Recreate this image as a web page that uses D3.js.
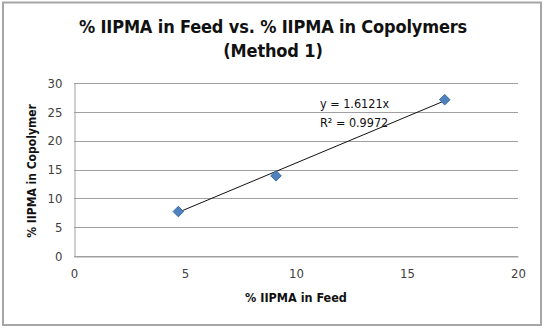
<!DOCTYPE html>
<html>
<head>
<meta charset="utf-8">
<script src="https://cdn.jsdelivr.net/npm/d3@7"></script>
<style>
  body { margin: 0; background: #fff; }
  svg { display: block; font-family: "DejaVu Sans Condensed", "DejaVu Sans", sans-serif; }
</style>
</head>
<body>
<div class="chart"></div>
<script>
// data
var feed = [4.7, 9.1, 16.7];
var copolymer = [7.7, 13.9, 27.1];
var xTicks = [0, 5, 10, 15, 20];
var yTicks = [0, 5, 10, 15, 20, 25, 30];
var slope = 1.6121;
var equationLines = ["y = 1.6121x", "R² = 0.9972"];

var width = 546;
var height = 332;
var margin = { top: 83, right: 28, bottom: 76, left: 74 };

var svg = d3.select(".chart")
  .append("svg")
  .attr("width", width)
  .attr("height", height);

// bingkai luar
svg.append("rect")
  .attr("x", 3).attr("y", 2.5)
  .attr("width", 538).attr("height", 322.5)
  .attr("fill", "white")
  .attr("stroke", "#a6a6a6")
  .attr("stroke-width", 2);

var x = d3.scaleLinear().domain([0, 20]).range([margin.left, width - margin.right]);
var y = d3.scaleLinear().domain([0, 30]).range([height - margin.bottom, margin.top]);

// grid horizontal
svg.append("g")
  .selectAll("line")
  .data(yTicks)
  .enter().append("line")
  .attr("x1", x(0))
  .attr("x2", x(20))
  .attr("y1", function(d) { return Math.round(y(d)) + 0.5; })
  .attr("y2", function(d) { return Math.round(y(d)) + 0.5; })
  .attr("stroke", "#a0a0a0")
  .attr("stroke-width", 1);

// sumbu y
var yAxis = svg.append("g")
  .attr("transform", "translate(" + (x(0) + 0.5) + ",0)")
  .call(d3.axisLeft(y).tickValues(yTicks).tickSize(0).tickPadding(12));
yAxis.select(".domain").attr("stroke", "#a0a0a0");
yAxis.selectAll("text").style("font-size", "13px").style("fill", "#404040")
  .style("font-family", "DejaVu Sans Condensed, DejaVu Sans, sans-serif");

// sumbu x
var xAxis = svg.append("g")
  .attr("transform", "translate(0," + (Math.round(y(0)) + 0.5) + ")")
  .call(d3.axisBottom(x).tickValues(xTicks).tickSize(0).tickPadding(12));
xAxis.select(".domain").attr("stroke", "#a0a0a0");
xAxis.selectAll("text").style("font-size", "13px").style("fill", "#404040")
  .style("font-family", "DejaVu Sans Condensed, DejaVu Sans, sans-serif");

// judul
var title = svg.append("text")
  .attr("x", 273)
  .attr("text-anchor", "middle")
  .style("font-size", "18px")
  .style("font-weight", "bold")
  .style("letter-spacing", "-0.15px")
  .style("fill", "#111");
title.append("tspan").attr("x", 273).attr("y", 33).text("% IIPMA in Feed vs. % IIPMA in Copolymers");
title.append("tspan").attr("x", 273).attr("y", 57).text("(Method 1)");

// judul sumbu
svg.append("text")
  .attr("x", 296)
  .attr("y", 302)
  .attr("text-anchor", "middle")
  .style("font-size", "12.5px")
  .style("font-weight", "bold")
  .style("fill", "#111")
  .text("% IIPMA in Feed");

svg.append("text")
  .attr("transform", "translate(36,171) rotate(-90)")
  .attr("text-anchor", "middle")
  .style("font-size", "12px")
  .style("font-weight", "bold")
  .style("fill", "#111")
  .text("% IIPMA in Copolymer");

// garis tren
var xMin = d3.min(feed), xMax = d3.max(feed);
svg.append("line")
  .attr("x1", x(xMin)).attr("y1", y(slope * xMin))
  .attr("x2", x(xMax)).attr("y2", y(slope * xMax))
  .attr("stroke", "#111")
  .attr("stroke-width", 1);

// titik data (diamond)
var points = feed.map(function(d, i) { return { fx: d, cy: copolymer[i] }; });
svg.selectAll(".pt")
  .data(points)
  .enter().append("path")
  .attr("class", "pt")
  .attr("d", d3.symbol().type(d3.symbolDiamond2).size(70))
  .attr("transform", function(d) { return "translate(" + x(d.fx) + "," + y(d.cy) + ")"; })
  .attr("fill", "#4f81bd")
  .attr("stroke", "#3a6aa3")
  .attr("stroke-width", 1);

// persamaan
svg.append("g")
  .selectAll("text")
  .data(equationLines)
  .enter().append("text")
  .attr("x", 320)
  .attr("y", function(d, i) { return 108 + i * 19; })
  .style("font-size", "12.5px")
  .style("fill", "#111")
  .text(function(d) { return d; });
</script>
</body>
</html>
